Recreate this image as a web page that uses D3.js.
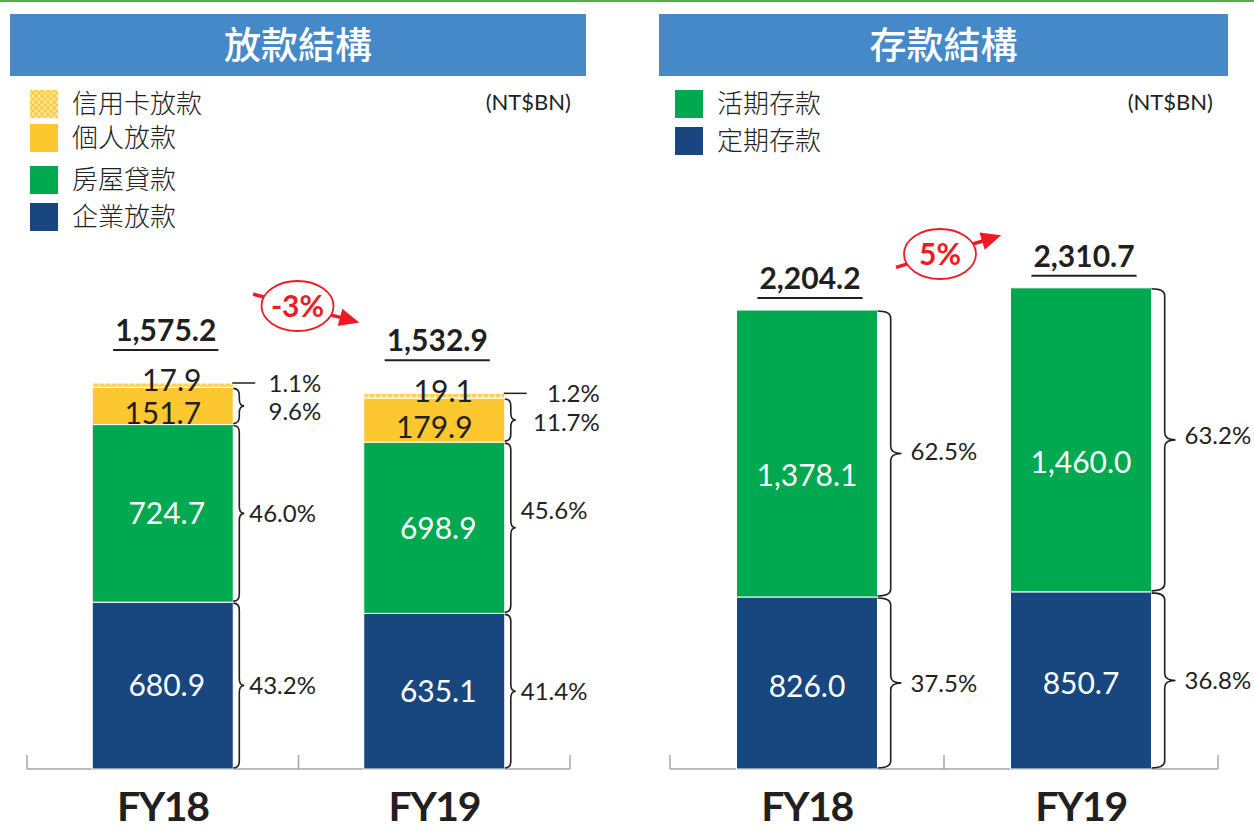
<!DOCTYPE html>
<html>
<head>
<meta charset="utf-8">
<script src="https://cdn.jsdelivr.net/npm/d3@7"></script>
<style>
  html, body { margin: 0; padding: 0; background: #fff; }
  svg { display: block; }
  .num { font-family: Lato, "Open Sans", sans-serif; fill: #231f20; }
  .cjk { font-family: "Noto Sans CJK TC", "Noto Sans", sans-serif; fill: #231f20; }
</style>
</head>
<body>
<div id="chart"></div>
<script>
// ---- data ----
var years = ["FY18", "FY19"];

var loanNames = ["信用卡放款", "個人放款", "房屋貸款", "企業放款"];
var loanCard = [17.9, 19.1];
var loanPersonal = [151.7, 179.9];
var loanMortgage = [724.7, 698.9];
var loanCorporate = [680.9, 635.1];
var loanTotals = [1575.2, 1532.9];
var loanCardPct = [1.1, 1.2];
var loanPersonalPct = [9.6, 11.7];
var loanMortgagePct = [46.0, 45.6];
var loanCorporatePct = [43.2, 41.4];
var loanGrowth = "-3%";

var depositNames = ["活期存款", "定期存款"];
var depositDemand = [1378.1, 1460.0];
var depositTime = [826.0, 850.7];
var depositTotals = [2204.2, 2310.7];
var depositDemandPct = [62.5, 63.2];
var depositTimePct = [37.5, 36.8];
var depositGrowth = "5%";

var unitLabel = "(NT$BN)";

// ---- colours ----
var C = {
    header: "#4589c8",
    navy: "#17477e",
    green: "#00a84f",
    yellow: "#fcc72f",
    red: "#ed1c24",
    text: "#231f20",
    axis: "#a6a6a6"
};

var W = 1254, H = 832, baseY = 769;
var fmt = d3.format(",.1f");

var svg = d3.select("#chart").append("svg")
    .attr("width", W)
    .attr("height", H);

var defs = svg.append("defs");
var pat = defs.append("pattern")
    .attr("id", "cardPat")
    .attr("patternUnits", "userSpaceOnUse")
    .attr("width", 6).attr("height", 6);
pat.append("rect").attr("width", 6).attr("height", 6).attr("fill", "#fcd050");
pat.append("path")
    .attr("d", "M0,3 H6 M3,0 V6")
    .attr("stroke", "#fff3c9").attr("stroke-width", 1.2);
pat.append("circle").attr("cx", 3).attr("cy", 3).attr("r", 1.2).attr("fill", "#fcc72f");

// top thin green rule
svg.append("rect")
    .attr("x", 0).attr("y", 0)
    .attr("width", W).attr("height", 2)
    .attr("fill", "#4caf50");

function brace(x, y1, y2, w) {
    var r = Math.min(7, (y2 - y1) / 4),
        m = (y1 + y2) / 2,
        xm = x + w * 0.55;
    return "M" + x + "," + y1 +
        " Q" + xm + "," + y1 + " " + xm + "," + (y1 + r) +
        " L" + xm + "," + (m - r) +
        " Q" + xm + "," + m + " " + (x + w) + "," + m +
        " Q" + xm + "," + m + " " + xm + "," + (m + r) +
        " L" + xm + "," + (y2 - r) +
        " Q" + xm + "," + y2 + " " + x + "," + y2;
}

function drawChart(cfg) {
    var g = svg.append("g");

    // header band
    g.append("rect")
        .attr("x", cfg.header[0]).attr("y", 14)
        .attr("width", cfg.header[1] - cfg.header[0]).attr("height", 62)
        .attr("fill", C.header);
    g.append("text")
        .attr("class", "cjk")
        .attr("x", (cfg.header[0] + cfg.header[1]) / 2)
        .attr("y", 46)
        .attr("dy", "0.36em")
        .attr("text-anchor", "middle")
        .style("fill", "#fff")
        .style("font-size", "37px")
        .style("font-weight", "500")
        .text(cfg.title);

    // legend
    var lg = g.selectAll(".leg")
        .data(cfg.legend)
        .enter().append("g")
        .attr("transform", function(d) { return "translate(" + cfg.legendX + "," + d.y + ")"; });
    lg.append("rect")
        .attr("width", 28).attr("height", 28)
        .attr("fill", function(d) { return d.fill; });
    lg.append("text")
        .attr("class", "cjk")
        .attr("x", 42).attr("y", 14)
        .attr("dy", "0.36em")
        .style("font-size", "26px")
        .style("font-weight", "300")
        .text(function(d) { return d.name; });

    g.append("text")
        .attr("class", "num")
        .attr("x", cfg.unitX).attr("y", 102)
        .attr("dy", "0.36em")
        .attr("text-anchor", "end")
        .style("font-size", "22px")
        .text(unitLabel);

    // scales
    var x = d3.scaleBand()
        .domain(years)
        .range(cfg.xRange)
        .paddingInner(0).paddingOuter(0);

    var y = d3.scaleLinear()
        .domain([0, cfg.totals[0]])
        .range([baseY, cfg.topY]);

    var barW = 141;
    var keys = cfg.series.map(function(s) { return s.key; });
    var table = years.map(function(yr, i) {
        var row = { year: yr };
        cfg.series.forEach(function(s) { row[s.key] = s.values[i]; });
        return row;
    });
    var stacked = d3.stack().keys(keys)(table);

    // axis
    var r = x.range();
    g.append("line")
        .attr("x1", r[0]).attr("x2", r[1])
        .attr("y1", baseY).attr("y2", baseY)
        .attr("stroke", C.axis).attr("stroke-width", 1.5);
    var edges = years.map(function(d) { return x(d); }).concat([r[1]]);
    g.selectAll(".tick")
        .data(edges)
        .enter().append("line")
        .attr("x1", function(d) { return d; }).attr("x2", function(d) { return d; })
        .attr("y1", baseY - 14).attr("y2", baseY)
        .attr("stroke", C.axis).attr("stroke-width", 1.5);

    g.selectAll(".fy")
        .data(years)
        .enter().append("text")
        .attr("class", "num")
        .attr("x", function(d) { return x(d) + x.bandwidth() / 2; })
        .attr("y", 821)
        .attr("text-anchor", "middle")
        .style("font-size", "41px")
        .style("font-weight", "bold")
        .style("letter-spacing", "-1.5px")
        .text(function(d) { return d; });

    function bx(d) { return x(d.data.year) + x.bandwidth() / 2 - barW / 2; }

    // bars + labels per series
    stacked.forEach(function(layer, li) {
        var s = cfg.series[li];
        var lay = g.append("g");
        lay.selectAll("rect")
            .data(layer)
            .enter().append("rect")
            .attr("x", bx)
            .attr("y", function(d) { return y(d[1]); })
            .attr("width", barW)
            .attr("height", function(d) { return y(d[0]) - y(d[1]); })
            .attr("fill", s.fill)
            .attr("stroke", "#fff")
            .attr("stroke-width", 1);

        // value label
        lay.selectAll(".val")
            .data(layer)
            .enter().append("text")
            .attr("class", "num")
            .attr("x", function(d) { return bx(d) + barW / 2 + (s.valDx || 0); })
            .attr("y", function(d) {
                if (s.small) return y(d[0]) + 4;
                return (y(d[0]) + y(d[1])) / 2 + (s.valDy || 0);
            })
            .attr("dy", s.small ? "0" : "0.36em")
            .attr("text-anchor", "middle")
            .style("font-size", "30px")
            .style("fill", s.textFill)
            .text(function(d, i) { return fmt(s.values[i]); });

        // brace or tick line
        if (s.small) {
            lay.selectAll(".tk")
                .data(layer)
                .enter().append("line")
                .attr("x1", function(d) { return bx(d) + barW - 1; })
                .attr("x2", function(d) { return bx(d) + barW + 22; })
                .attr("y1", function(d) { return y(d[1]); })
                .attr("y2", function(d) { return y(d[1]); })
                .attr("stroke", C.text).attr("stroke-width", 1.5);
        } else {
            lay.selectAll(".br")
                .data(layer)
                .enter().append("path")
                .attr("d", function(d) { return brace(bx(d) + barW, y(d[1]) + 1, y(d[0]) - 1, cfg.braceW); })
                .attr("fill", "none")
                .attr("stroke", C.text).attr("stroke-width", 1.6);
        }

        // percentage label
        lay.selectAll(".pct")
            .data(layer)
            .enter().append("text")
            .attr("class", "num")
            .attr("x", function(d, i) {
                if (s.pctEnd) return bx(d) + barW + s.pctEnd[i];
                return bx(d) + barW + cfg.pctGap;
            })
            .attr("y", function(d, i) {
                var off = s.pctDy ? s.pctDy[i] : 0;
                if (s.small) return y(d[1]) + off;
                return (y(d[0]) + y(d[1])) / 2 + off;
            })
            .attr("dy", "0.36em")
            .attr("text-anchor", s.pctEnd ? "end" : "start")
            .style("font-size", "24px")
            .text(function(d, i) { return s.pct[i].toFixed(1) + "%"; });
    });

    // totals, underlined
    var tot = g.selectAll(".tot")
        .data(years)
        .enter().append("g");
    var tt = tot.append("text")
        .attr("class", "num")
        .attr("x", function(d) { return x(d) + x.bandwidth() / 2 + 3; })
        .attr("y", function(d, i) { return y(cfg.totals[i]) - cfg.totalGap; })
        .attr("text-anchor", "middle")
        .style("font-size", "30px")
        .style("font-weight", "bold")
        .text(function(d, i) { return fmt(cfg.totals[i]); });
    tt.each(function(d, i) {
        var t = d3.select(this),
            half = this.getComputedTextLength() / 2 + 2,
            cx = +t.attr("x"),
            ly = +t.attr("y") + 9;
        d3.select(this.parentNode).append("line")
            .attr("x1", cx - half).attr("x2", cx + half)
            .attr("y1", ly).attr("y2", ly)
            .attr("stroke", C.text).attr("stroke-width", 2);
    });

    // growth bubble
    var gx = (x(years[0]) + x(years[1])) / 2 + x.bandwidth() / 2 + cfg.growth.dx;
    var gy = cfg.growth.y;
    var a = cfg.growth.angle * Math.PI / 180;
    var ca = Math.cos(a), sa = Math.sin(a);
    var gg = g.append("g");
    gg.append("line")
        .attr("x1", gx - 46 * ca).attr("y1", gy - 46 * sa)
        .attr("x2", gx + 48 * ca).attr("y2", gy + 48 * sa)
        .attr("stroke", C.red).attr("stroke-width", 3.5);
    var tipX = gx + 64 * ca, tipY = gy + 64 * sa;
    var bX = gx + 44 * ca, bY = gy + 44 * sa;
    gg.append("path")
        .attr("d", "M" + tipX + "," + tipY +
            " L" + (bX - 9 * sa) + "," + (bY + 9 * ca) +
            " L" + (bX + 9 * sa) + "," + (bY - 9 * ca) + " Z")
        .attr("fill", C.red);
    gg.append("ellipse")
        .attr("cx", gx).attr("cy", gy)
        .attr("rx", 36).attr("ry", 25)
        .attr("fill", "#fff")
        .attr("stroke", C.red).attr("stroke-width", 1.8);
    gg.append("text")
        .attr("class", "num")
        .attr("x", gx).attr("y", gy)
        .attr("dy", "0.36em")
        .attr("text-anchor", "middle")
        .style("fill", C.red)
        .style("font-size", "30px")
        .style("font-weight", "bold")
        .text(cfg.growth.text);
}

drawChart({
    title: "放款結構",
    header: [10, 586],
    legendX: 30,
    legend: [
        { name: loanNames[0], fill: "url(#cardPat)", y: 90 },
        { name: loanNames[1], fill: C.yellow, y: 124 },
        { name: loanNames[2], fill: C.green, y: 166 },
        { name: loanNames[3], fill: C.navy, y: 203 }
    ],
    unitX: 571,
    xRange: [27, 570],
    topY: 383,
    totals: loanTotals,
    totalGap: 42,
    braceW: 11,
    pctGap: 16,
    series: [
        { key: "corp", values: loanCorporate, pct: loanCorporatePct, fill: C.navy, textFill: "#fff", valDx: 4 },
        { key: "mort", values: loanMortgage, pct: loanMortgagePct, fill: C.green, textFill: "#fff", valDx: 4, pctDy: [0, -17] },
        { key: "pers", values: loanPersonal, pct: loanPersonalPct, fill: C.yellow, textFill: C.text, valDy: 7, pctEnd: [88, 95], pctDy: [5, 2] },
        { key: "card", values: loanCard, pct: loanCardPct, fill: "url(#cardPat)", textFill: C.text, small: true, pctEnd: [88, 95], valDx: 9 }
    ],
    growth: { text: loanGrowth, y: 306, dx: -1, angle: 15 }
});

drawChart({
    title: "存款結構",
    header: [659, 1228],
    legendX: 675,
    legend: [
        { name: depositNames[0], fill: C.green, y: 90 },
        { name: depositNames[1], fill: C.navy, y: 127 }
    ],
    unitX: 1213,
    xRange: [670, 1218],
    topY: 310,
    totals: depositTotals,
    totalGap: 21,
    braceW: 24,
    pctGap: 33,
    series: [
        { key: "time", values: depositTime, pct: depositTimePct, fill: C.navy, textFill: "#fff", valDy: 3 },
        { key: "demand", values: depositDemand, pct: depositDemandPct, fill: C.green, textFill: "#fff", valDy: 22, pctDy: [-2, -4] }
    ],
    growth: { text: depositGrowth, y: 254, dx: -4, angle: -17 }
});
</script>
</body>
</html>
